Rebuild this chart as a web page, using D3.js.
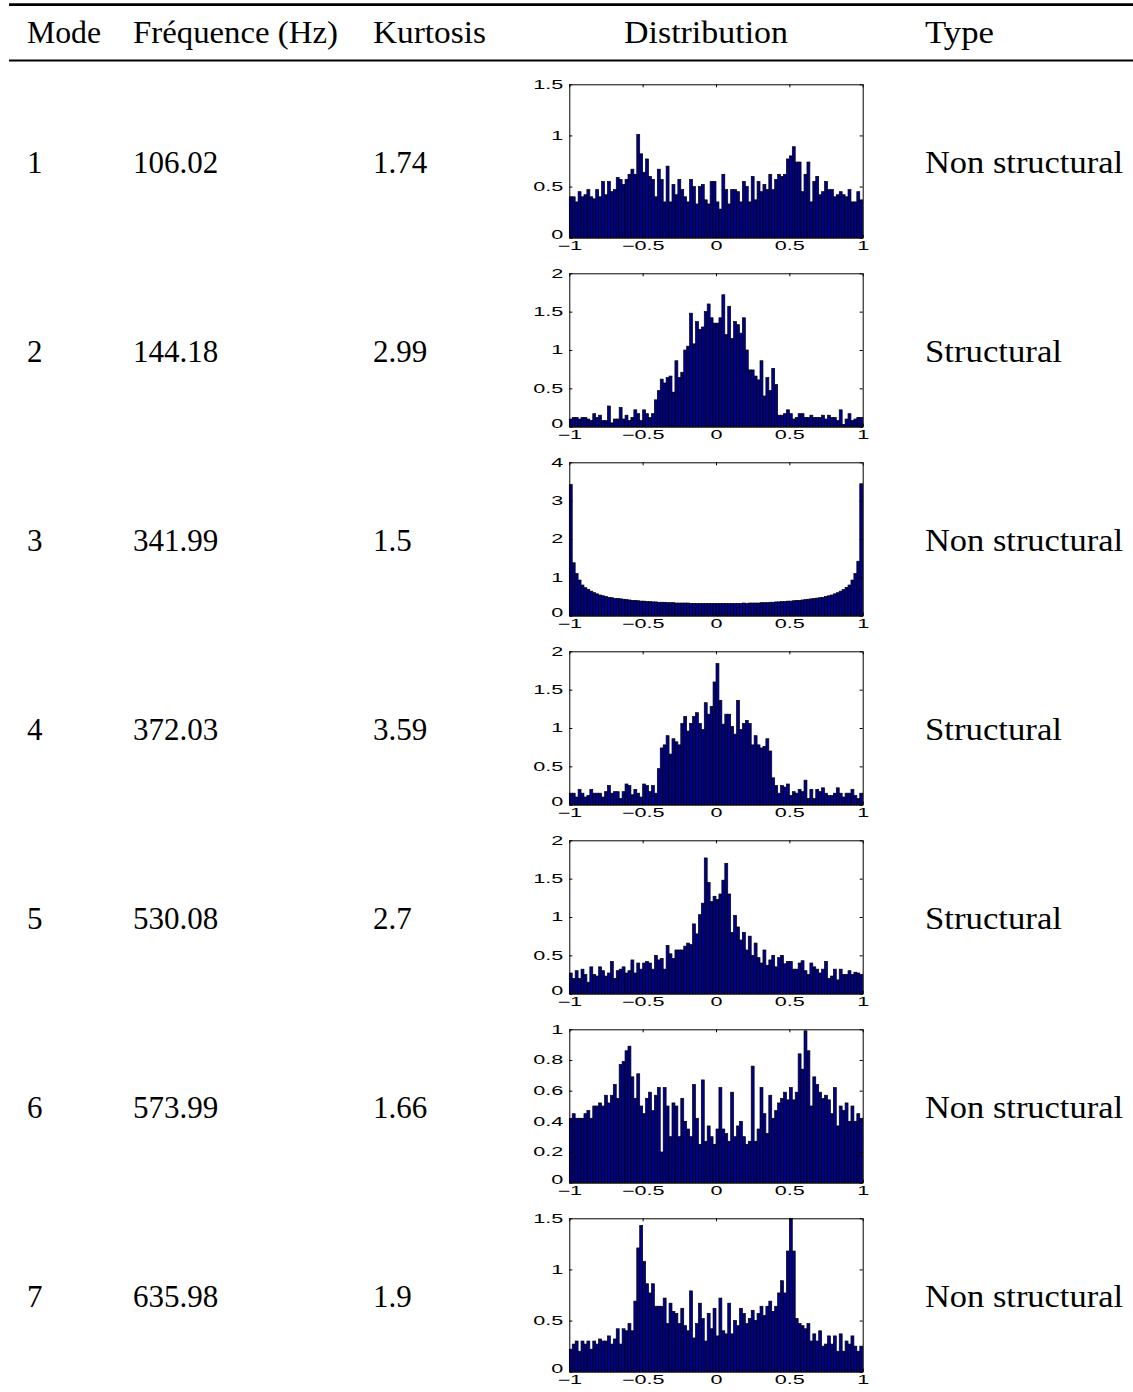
<!DOCTYPE html>
<html><head><meta charset="utf-8">
<script src="https://cdn.jsdelivr.net/npm/d3@7"></script>
<style>body{margin:0;background:#fff}svg{display:block}</style>
</head><body>
<svg id="c" width="1133" height="1392"></svg>
<script>
// ---------- data ----------
const headers = ["Mode", "Fréquence (Hz)", "Kurtosis", "Distribution", "Type"];
const modes = ["1", "2", "3", "4", "5", "6", "7"];
const frequencies = ["106.02", "144.18", "341.99", "372.03", "530.08", "573.99", "635.98"];
const kurtosis = ["1.74", "2.99", "1.5", "3.59", "2.7", "1.66", "1.9"];
const types = ["Non structural", "Structural", "Non structural", "Structural", "Structural", "Non structural", "Non structural"];

const xTicks = [-1, -0.5, 0, 0.5, 1];
const yTicks1 = [0, 0.5, 1, 1.5];
const yTicks2 = [0, 0.5, 1, 1.5, 2];
const yTicks3 = [0, 1, 2, 3, 4];
const yTicks4 = [0, 0.5, 1, 1.5, 2];
const yTicks5 = [0, 0.5, 1, 1.5, 2];
const yTicks6 = [0, 0.2, 0.4, 0.6, 0.8, 1];
const yTicks7 = [0, 0.5, 1, 1.5];

// 100 bins on [-1, 1]
const hist1 = [0.40,0.40,0.35,0.45,0.40,0.42,0.47,0.40,0.38,0.47,
  0.40,0.55,0.42,0.55,0.45,0.47,0.59,0.57,0.52,0.57,
  0.62,0.67,0.62,1.01,0.82,0.64,0.77,0.60,0.57,0.40,
  0.67,0.57,0.35,0.70,0.35,0.52,0.42,0.57,0.47,0.40,
  0.35,0.57,0.50,0.33,0.50,0.52,0.37,0.33,0.55,0.55,
  0.35,0.28,0.62,0.47,0.33,0.47,0.47,0.45,0.35,0.55,
  0.50,0.35,0.60,0.37,0.55,0.45,0.52,0.47,0.62,0.47,
  0.57,0.62,0.60,0.62,0.77,0.80,0.89,0.74,0.74,0.45,
  0.62,0.74,0.35,0.55,0.60,0.42,0.45,0.55,0.47,0.47,
  0.40,0.42,0.45,0.42,0.40,0.47,0.35,0.35,0.45,0.37];
const hist2 = [0.10,0.12,0.12,0.10,0.12,0.12,0.10,0.08,0.17,0.12,
  0.15,0.08,0.08,0.27,0.05,0.10,0.10,0.25,0.10,0.15,
  0.08,0.12,0.22,0.17,0.08,0.22,0.17,0.12,0.17,0.35,
  0.47,0.62,0.57,0.64,0.66,0.45,0.86,0.64,0.71,1.00,
  1.05,1.48,1.08,1.37,1.27,1.30,1.50,1.60,1.42,1.35,
  1.35,1.42,1.72,1.20,1.57,1.15,1.37,1.33,1.22,1.42,
  1.00,0.74,0.74,0.66,0.61,0.86,0.40,0.64,0.47,0.76,
  0.55,0.15,0.15,0.17,0.22,0.17,0.10,0.12,0.17,0.17,
  0.12,0.12,0.15,0.12,0.12,0.12,0.15,0.10,0.15,0.12,
  0.12,0.08,0.22,0.03,0.10,0.17,0.08,0.10,0.12,0.12];
const hist3 = [3.42,1.38,1.10,0.93,0.80,0.73,0.68,0.64,0.60,0.57,
  0.54,0.52,0.50,0.48,0.47,0.45,0.45,0.44,0.43,0.42,
  0.41,0.40,0.40,0.39,0.38,0.38,0.37,0.37,0.36,0.36,
  0.35,0.35,0.35,0.34,0.34,0.34,0.33,0.33,0.33,0.33,
  0.33,0.32,0.32,0.32,0.32,0.32,0.32,0.32,0.32,0.32,
  0.32,0.32,0.32,0.32,0.32,0.32,0.32,0.32,0.32,0.33,
  0.32,0.33,0.33,0.33,0.33,0.34,0.34,0.34,0.35,0.35,
  0.36,0.36,0.37,0.37,0.38,0.38,0.39,0.40,0.40,0.41,
  0.42,0.43,0.44,0.45,0.46,0.47,0.48,0.50,0.52,0.54,
  0.57,0.60,0.64,0.68,0.74,0.80,0.93,1.10,1.42,3.44];
const hist4 = [0.15,0.15,0.10,0.20,0.15,0.10,0.12,0.20,0.15,0.15,
  0.15,0.10,0.17,0.25,0.15,0.17,0.17,0.08,0.17,0.27,
  0.25,0.13,0.20,0.15,0.10,0.27,0.25,0.17,0.25,0.15,
  0.47,0.74,0.78,0.90,0.66,0.86,0.82,0.78,1.06,1.15,
  0.96,1.06,1.15,1.20,1.06,0.98,1.33,1.18,1.28,1.60,
  1.84,1.36,1.05,1.18,1.18,1.02,0.92,1.36,0.98,1.06,
  1.10,1.06,0.78,0.90,0.78,0.74,0.76,0.86,0.70,0.35,
  0.25,0.15,0.25,0.23,0.27,0.12,0.17,0.15,0.20,0.17,
  0.32,0.08,0.20,0.08,0.20,0.17,0.22,0.15,0.12,0.12,
  0.15,0.22,0.15,0.10,0.15,0.15,0.20,0.12,0.08,0.15];
const hist5 = [0.27,0.20,0.30,0.20,0.32,0.25,0.15,0.35,0.25,0.23,
  0.35,0.30,0.23,0.27,0.42,0.20,0.30,0.32,0.35,0.27,
  0.30,0.44,0.27,0.40,0.32,0.40,0.42,0.40,0.32,0.50,
  0.44,0.46,0.32,0.63,0.52,0.46,0.57,0.57,0.57,0.62,
  0.66,0.64,0.91,0.78,1.03,1.18,1.77,1.45,1.20,1.27,
  1.23,1.30,1.48,1.70,1.30,0.80,1.02,0.87,0.70,0.80,
  0.57,0.75,0.50,0.66,0.47,0.40,0.57,0.37,0.44,0.50,
  0.35,0.47,0.50,0.39,0.42,0.42,0.32,0.32,0.40,0.43,
  0.30,0.25,0.40,0.35,0.32,0.27,0.32,0.42,0.20,0.23,
  0.32,0.18,0.32,0.25,0.25,0.30,0.25,0.28,0.27,0.25];
const hist6 = [0.42,0.45,0.42,0.42,0.42,0.45,0.47,0.42,0.50,0.50,
  0.52,0.50,0.57,0.52,0.57,0.64,0.55,0.77,0.79,0.86,
  0.89,0.69,0.55,0.71,0.50,0.45,0.55,0.59,0.47,0.57,
  0.62,0.20,0.62,0.50,0.30,0.52,0.50,0.30,0.55,0.40,
  0.35,0.30,0.64,0.42,0.25,0.67,0.27,0.37,0.30,0.25,
  0.35,0.62,0.35,0.32,0.27,0.59,0.30,0.37,0.40,0.30,
  0.25,0.27,0.76,0.27,0.35,0.62,0.45,0.32,0.57,0.42,
  0.47,0.52,0.55,0.59,0.54,0.62,0.54,0.59,0.84,0.74,
  0.99,0.86,0.50,0.69,0.64,0.59,0.55,0.57,0.54,0.45,
  0.62,0.37,0.50,0.47,0.52,0.40,0.50,0.40,0.45,0.42];
const hist7 = [0.22,0.27,0.30,0.20,0.30,0.27,0.30,0.22,0.30,0.27,
  0.32,0.30,0.30,0.35,0.27,0.32,0.42,0.27,0.42,0.40,
  0.47,0.40,0.69,1.21,1.43,1.08,0.86,0.77,0.86,0.64,
  0.64,0.64,0.72,0.47,0.67,0.59,0.57,0.47,0.62,0.45,
  0.40,0.79,0.33,0.47,0.67,0.52,0.30,0.57,0.42,0.62,
  0.35,0.72,0.40,0.37,0.67,0.37,0.50,0.45,0.62,0.57,
  0.47,0.52,0.60,0.50,0.57,0.64,0.55,0.64,0.69,0.59,
  0.64,0.77,0.89,0.77,1.18,1.50,1.18,0.52,0.47,0.45,
  0.42,0.47,0.30,0.37,0.30,0.40,0.25,0.27,0.35,0.27,
  0.35,0.20,0.37,0.20,0.30,0.27,0.35,0.25,0.20,0.25];

const histograms = [hist1, hist2, hist3, hist4, hist5, hist6, hist7];
const yTickSets = [yTicks1, yTicks2, yTicks3, yTicks4, yTicks5, yTicks6, yTicks7];

// ---------- layout ----------
const W = 1133;
const serif = "'Liberation Serif','Times New Roman',serif";
const sans = "'Liberation Sans',Arial,Helvetica,sans-serif";
const fs = 31;
const rowStep = 189;
const headerBase = 42.7;
const rowBase0 = 172.7;
const colX = [27, 133, 373, 706, 925];
const headerWidths = [74, 205, 113, 164, 69];
const plotLeft = 569.3, plotRight = 862.7;
const plotTop0 = 84.3, plotH = 153.4;
const stretch = 1.8;
const tickFont = 12;

const svg = d3.select("#c");

// rules
svg.append("line").attr("x1", 9).attr("x2", W).attr("y1", 4.7).attr("y2", 4.7)
  .attr("stroke", "#000").attr("stroke-width", 2.7);
svg.append("line").attr("x1", 9).attr("x2", W).attr("y1", 60.5).attr("y2", 60.5)
  .attr("stroke", "#000").attr("stroke-width", 1.8);

function fitText(sel, target) {
  const w = sel.node().getComputedTextLength();
  if (target && w > 0) sel.attr("textLength", target).attr("lengthAdjust", "spacingAndGlyphs");
}

// header
headers.forEach((h, i) => {
  const t = svg.append("text")
    .attr("x", colX[i]).attr("y", headerBase)
    .attr("font-family", serif).attr("font-size", fs).attr("fill", "#000")
    .attr("text-anchor", i === 3 ? "middle" : "start")
    .text(h);
  fitText(t, headerWidths[i]);
});

// table rows
const typeWidth = { "Non structural": 198, "Structural": 137 };
modes.forEach((m, i) => {
  const yb = rowBase0 + i * rowStep;
  const g = svg.append("g").attr("font-family", serif).attr("font-size", fs).attr("fill", "#000");
  g.append("text").attr("x", colX[0]).attr("y", yb).text(m);
  g.append("text").attr("x", colX[1]).attr("y", yb).text(frequencies[i]);
  g.append("text").attr("x", colX[2]).attr("y", yb).text(kurtosis[i]);
  const t = g.append("text").attr("x", colX[4]).attr("y", yb).text(types[i]);
  fitText(t, typeWidth[types[i]]);
});

// histograms
const fmtX = d => d < 0 ? "\u2212" + Math.abs(d) : String(d);
const fmtY = d => String(d);
const nb = 100, binW = 2 / nb;

histograms.forEach((vals, i) => {
  const top = plotTop0 + i * rowStep, bottom = top + plotH;
  const ticks = yTickSets[i];
  const x = d3.scaleLinear().domain([-1, 1]).range([plotLeft, plotRight]);
  const y = d3.scaleLinear().domain([0, ticks[ticks.length - 1]]).range([bottom, top]);
  const g = svg.append("g");

  g.append("g").selectAll("rect").data(vals).join("rect")
    .attr("x", (d, k) => x(-1 + k * binW))
    .attr("width", x(binW) - x(0))
    .attr("y", d => y(d))
    .attr("height", d => bottom - y(d))
    .attr("fill", "#00008f")
    .attr("stroke", "#000")
    .attr("stroke-width", 0.7);

  const styleAxis = a => {
    a.selectAll("path").attr("stroke", "#000").attr("stroke-width", 1);
    a.selectAll("line").attr("stroke", "#000").attr("stroke-width", 1);
    a.selectAll("text").attr("font-family", sans).attr("font-size", tickFont).attr("fill", "#000");
  };

  const aL = g.append("g").attr("transform", `translate(${plotLeft},0)`)
    .call(d3.axisLeft(y).tickValues(ticks).tickFormat(fmtY).tickSizeInner(-3).tickSizeOuter(0).tickPadding(3.3));
  styleAxis(aL);
  aL.selectAll("text").attr("transform", `scale(${stretch},1)`);
  // the bottom "0" sits a little higher, above the first x label
  aL.selectAll(".tick").filter(d => d === 0).select("text").attr("dy", "0.05em");

  const aR = g.append("g").attr("transform", `translate(${plotRight},0)`)
    .call(d3.axisRight(y).tickValues(ticks).tickFormat("").tickSizeInner(-3).tickSizeOuter(0));
  styleAxis(aR);

  const aT = g.append("g").attr("transform", `translate(0,${top})`)
    .call(d3.axisTop(x).tickValues(xTicks).tickFormat("").tickSizeInner(-3).tickSizeOuter(0));
  styleAxis(aT);

  const aB = g.append("g").attr("transform", `translate(0,${bottom})`)
    .call(d3.axisBottom(x).tickValues(xTicks).tickFormat(fmtX).tickSizeInner(-3).tickSizeOuter(0).tickPadding(4));
  styleAxis(aB);
  aB.selectAll("text").attr("transform", `scale(${stretch},1)`);
});
</script>
</body></html>
